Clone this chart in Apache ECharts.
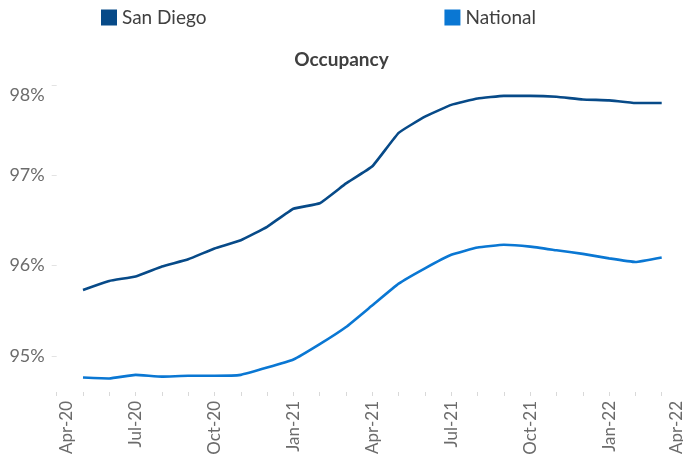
<!DOCTYPE html>
<html>
<head>
<meta charset="utf-8">
<script src="https://cdn.jsdelivr.net/npm/echarts@6/dist/echarts.min.js"></script>
<style>
  html, body { margin: 0; padding: 0; background: #fff; }
  #chart { width: 683px; height: 465px; }
</style>
</head>
<body>
<div id="chart"></div>
<script>
const months = [
  "Apr-20", "May-20", "Jun-20", "Jul-20", "Aug-20", "Sep-20", "Oct-20", "Nov-20", "Dec-20",
  "Jan-21", "Feb-21", "Mar-21", "Apr-21", "May-21", "Jun-21", "Jul-21", "Aug-21", "Sep-21",
  "Oct-21", "Nov-21", "Dec-21", "Jan-22", "Feb-22", "Mar-22", "Apr-22",
];
const sanDiego = [
  null, 95.73, 95.83, 95.88, 95.99, 96.07, 96.19, 96.28, 96.43, 96.63, 96.69, 96.91, 97.1,
  97.47, 97.65, 97.78, 97.85, 97.88, 97.88, 97.87, 97.84, 97.83, 97.8, 97.8, null,
];
const national = [
  null, 94.76, 94.75, 94.79, 94.77, 94.78, 94.78, 94.79, 94.87, 94.96, 95.13, 95.32, 95.56,
  95.8, 95.97, 96.12, 96.2, 96.23, 96.21, 96.17, 96.13, 96.08, 96.04, 96.09, null,
];
const yTicks = [95, 96, 97, 98];

const FONT = "Lato";
const LABEL_GREY = "#6b6b6b";

const chart = echarts.init(document.getElementById("chart"), null, { renderer: "canvas" });

chart.setOption({
  animation: false,
  backgroundColor: "#fff",
  title: {
    text: "Occupancy",
    left: "center",
    top: 45,
    textStyle: { fontFamily: FONT, fontSize: 19, fontWeight: "bold", color: "#404040" },
  },
  legend: {
    left: 96,
    top: 3,
    itemGap: 238,
    itemWidth: 16,
    itemHeight: 16,
    icon: "rect",
    textStyle: { fontFamily: FONT, fontSize: 19, color: "#404040" },
    data: ["San Diego", "National"],
  },
  grid: {
    left: 56.7,
    right: -5,
    top: 85,
    bottom: 73,
    outerBoundsMode: "none",
  },
  xAxis: {
    type: "category",
    boundaryGap: false,
    data: months,
    axisLine: { show: false },
    axisTick: { show: true, interval: 0, length: 4, lineStyle: { color: "#d9d9d9" } },
    axisLabel: {
      interval: 2,
      rotate: 90,
      margin: 9,
      fontFamily: FONT,
      fontSize: 17,
      color: LABEL_GREY,
      formatter: (value, idx) => {
        if (idx === 0) return "{first|" + value + "}";
        if (idx === months.length - 1) return "{last|" + value + "}";
        return value;
      },
      rich: {
        first: { fontFamily: FONT, fontSize: 17, color: LABEL_GREY, padding: [20, 0, 0, 0] },
        last: { fontFamily: FONT, fontSize: 17, color: LABEL_GREY, padding: [0, 0, 22, 0] },
      },
    },
    splitLine: { show: false },
  },
  yAxis: {
    type: "value",
    min: 94.6,
    max: 98,
    axisLine: { show: false },
    axisTick: {
      show: true,
      length: 5,
      customValues: yTicks,
      lineStyle: { color: "#e3e3e3" },
    },
    splitLine: { show: false },
    axisLabel: {
      customValues: yTicks,
      margin: 12,
      fontFamily: FONT,
      fontSize: 18,
      color: LABEL_GREY,
      formatter: (v) => (v === 98 ? "{top|98%}" : v + "%"),
      rich: {
        top: { fontFamily: FONT, fontSize: 18, color: LABEL_GREY, padding: [20, 0, 0, 0] },
      },
    },
  },
  series: [
    {
      name: "San Diego",
      type: "line",
      data: sanDiego,
      color: "#074a88",
      smooth: 0.1,
      symbol: "none",
      lineStyle: { width: 2.6, color: "#074a88" },
    },
    {
      name: "National",
      type: "line",
      data: national,
      color: "#0a77d3",
      smooth: 0.1,
      symbol: "none",
      lineStyle: { width: 2.6, color: "#0a77d3" },
    },
  ],
});
</script>
</body>
</html>
